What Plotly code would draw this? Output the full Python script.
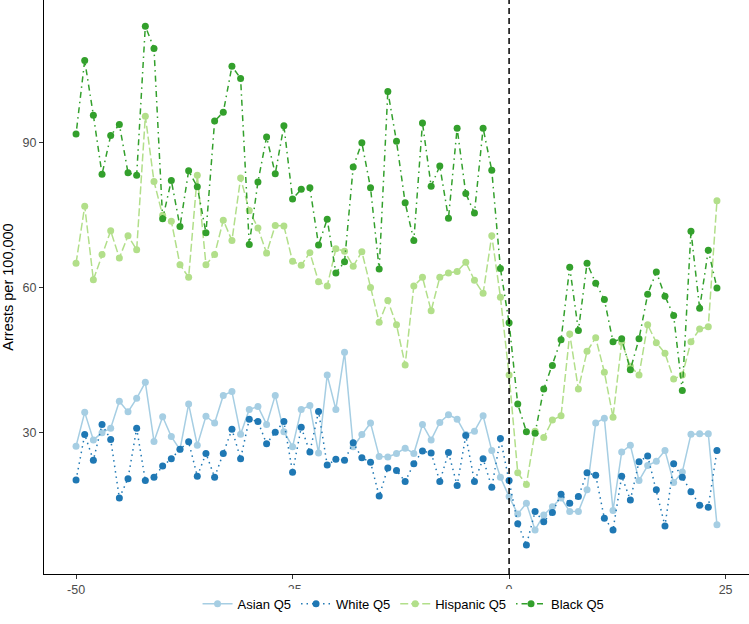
import plotly.graph_objects as go

# relative time (x)
t = list(range(-50, 25))

asian_q5 = [27.2, 34.2, 28.5, 30.0, 30.9, 36.5, 34.3, 37.1, 40.4, 28.2,
            33.3, 29.2, 26.5, 35.9, 27.4, 33.4, 32.0, 37.7, 38.5, 29.7,
            34.8, 35.4, 31.7, 37.7, 30.2, 27.1, 34.8, 35.6, 25.8, 41.9,
            34.8, 46.6, 27.1, 29.6, 32.0, 25.1, 25.0, 25.7, 26.8, 25.7,
            31.7, 28.5, 32.1, 33.7, 32.8, 29.6, 30.3, 33.5, 26.3, 20.8,
            16.8, 13.2, 15.4, 9.9, 13.0, 14.7, 16.5, 13.7, 13.7, 18.2,
            32.0, 33.0, 13.9, 26.0, 27.4, 20.1, 23.2, 24.1, 26.3, 19.7,
            21.9, 29.7, 29.8, 29.8, 11.0]

white_q5 = [20.2, 29.6, 24.3, 31.7, 28.6, 16.5, 20.5, 30.9, 20.1, 20.8,
            23.1, 24.6, 26.6, 28.1, 21.0, 25.7, 20.8, 25.7, 30.7, 24.6,
            32.8, 32.3, 27.7, 30.1, 32.3, 21.8, 31.1, 26.0, 34.4, 23.3,
            24.5, 24.3, 27.9, 24.8, 23.9, 16.9, 22.7, 22.2, 19.9, 23.6,
            26.2, 25.8, 19.9, 25.9, 19.1, 29.4, 19.9, 24.6, 18.7, 28.8,
            20.1, 11.2, 6.8, 13.7, 11.6, 13.5, 17.3, 15.4, 16.8, 21.7,
            21.2, 12.3, 9.9, 21.0, 16.1, 24.0, 25.2, 18.2, 10.7, 23.6,
            20.8, 17.8, 15.0, 14.6, 26.3]

hispanic_q5 = [65.0, 76.8, 61.6, 66.8, 71.7, 66.1, 70.7, 67.8, 95.4, 81.9,
               74.9, 73.7, 64.7, 62.1, 83.2, 64.7, 66.8, 73.9, 69.7, 82.6,
               75.9, 72.3, 67.1, 72.8, 72.7, 65.4, 64.6, 67.2, 61.2, 60.3,
               68.0, 67.5, 64.4, 67.4, 60.0, 52.8, 57.3, 52.3, 44.0, 60.3,
               62.1, 55.2, 62.1, 63.0, 63.3, 65.2, 61.5, 58.8, 70.7, 58.0,
               41.9, 21.7, 19.3, 30.3, 29.0, 32.6, 33.5, 50.4, 39.0, 46.8,
               49.6, 42.5, 33.2, 48.7, 43.7, 41.9, 52.3, 48.6, 46.4, 41.1,
               41.9, 48.8, 51.4, 51.9, 77.9]

black_q5 = [91.7, 106.9, 95.6, 83.4, 91.4, 93.7, 83.7, 83.2, 114.0, 109.4,
            74.2, 82.1, 72.6, 84.1, 80.8, 71.3, 94.4, 96.2, 105.7, 103.2,
            68.9, 81.8, 91.1, 83.5, 93.4, 78.3, 80.3, 80.6, 68.8, 74.1,
            63.0, 65.3, 84.9, 89.9, 80.6, 63.8, 100.5, 90.2, 77.5, 69.7,
            94.0, 80.9, 85.1, 74.3, 92.9, 79.4, 75.4, 92.9, 84.2, 63.9,
            52.7, 35.9, 30.2, 29.9, 39.0, 43.9, 49.2, 64.2, 51.1, 65.0,
            60.9, 57.5, 48.8, 49.4, 43.0, 49.4, 58.6, 63.2, 58.2, 54.2,
            38.7, 71.6, 55.7, 67.7, 59.9]

series_names = ["Asian Q5", "White Q5", "Hispanic Q5", "Black Q5"]
series_values = [asian_q5, white_q5, hispanic_q5, black_q5]
colors = ["#a6cee3", "#1f78b4", "#b2df8a", "#33a02c"]
dashes = ["solid", "1.5px,4px", "8px,3px", "1.5px,4px,6px,4px"]

x_ticks = [-50, -25, 0, 25]
x_tick_labels = ["-50", "-25", "0", "25"]
y_ticks = [30, 60, 90]
y_tick_labels = ["30", "60", "90"]

fig = go.Figure()
for name, vals, col, dash in zip(series_names, series_values, colors, dashes):
    fig.add_trace(go.Scatter(
        x=t, y=vals, name=name, mode="lines+markers",
        line=dict(color=col, width=1.5, dash=dash),
        marker=dict(color=col, size=7),
    ))

fig.add_vline(x=0, line=dict(color="black", width=1.5, dash="6px,4px"))

font_fam = "Liberation Sans, Arial, sans-serif"
fig.update_layout(
    width=749, height=624,
    margin=dict(l=44, r=0, t=0, b=50),
    plot_bgcolor="white", paper_bgcolor="white",
    font=dict(family=font_fam, size=12, color="black"),
    hovermode=False,
    showlegend=True,
    legend=dict(orientation="h", x=0.51, xanchor="center", y=-0.052, yanchor="middle",
                font=dict(size=13, color="black"), itemwidth=30),
    xaxis=dict(range=[-53.7, 27.7], tickvals=x_ticks, ticktext=x_tick_labels,
               showgrid=False, zeroline=False, automargin=False,
               showline=True, linecolor="black", linewidth=1,
               ticks="outside", ticklen=4, tickcolor="#333333",
               tickfont=dict(size=12.5, color="#4d4d4d")),
    yaxis=dict(range=[0.8, 119.4], tickvals=y_ticks, ticktext=y_tick_labels,
               showgrid=False, zeroline=False, automargin=False,
               showline=True, linecolor="black", linewidth=1,
               ticks="outside", ticklen=4, tickcolor="#333333",
               tickfont=dict(size=12.5, color="#4d4d4d"),
               title=dict(text="Arrests per 100,000", font=dict(size=14.5, color="black"),
                          standoff=6)),
)

fig.write_html("out.html", config={"displayModeBar": False},
               post_script="document.body.style.margin='0px';")
